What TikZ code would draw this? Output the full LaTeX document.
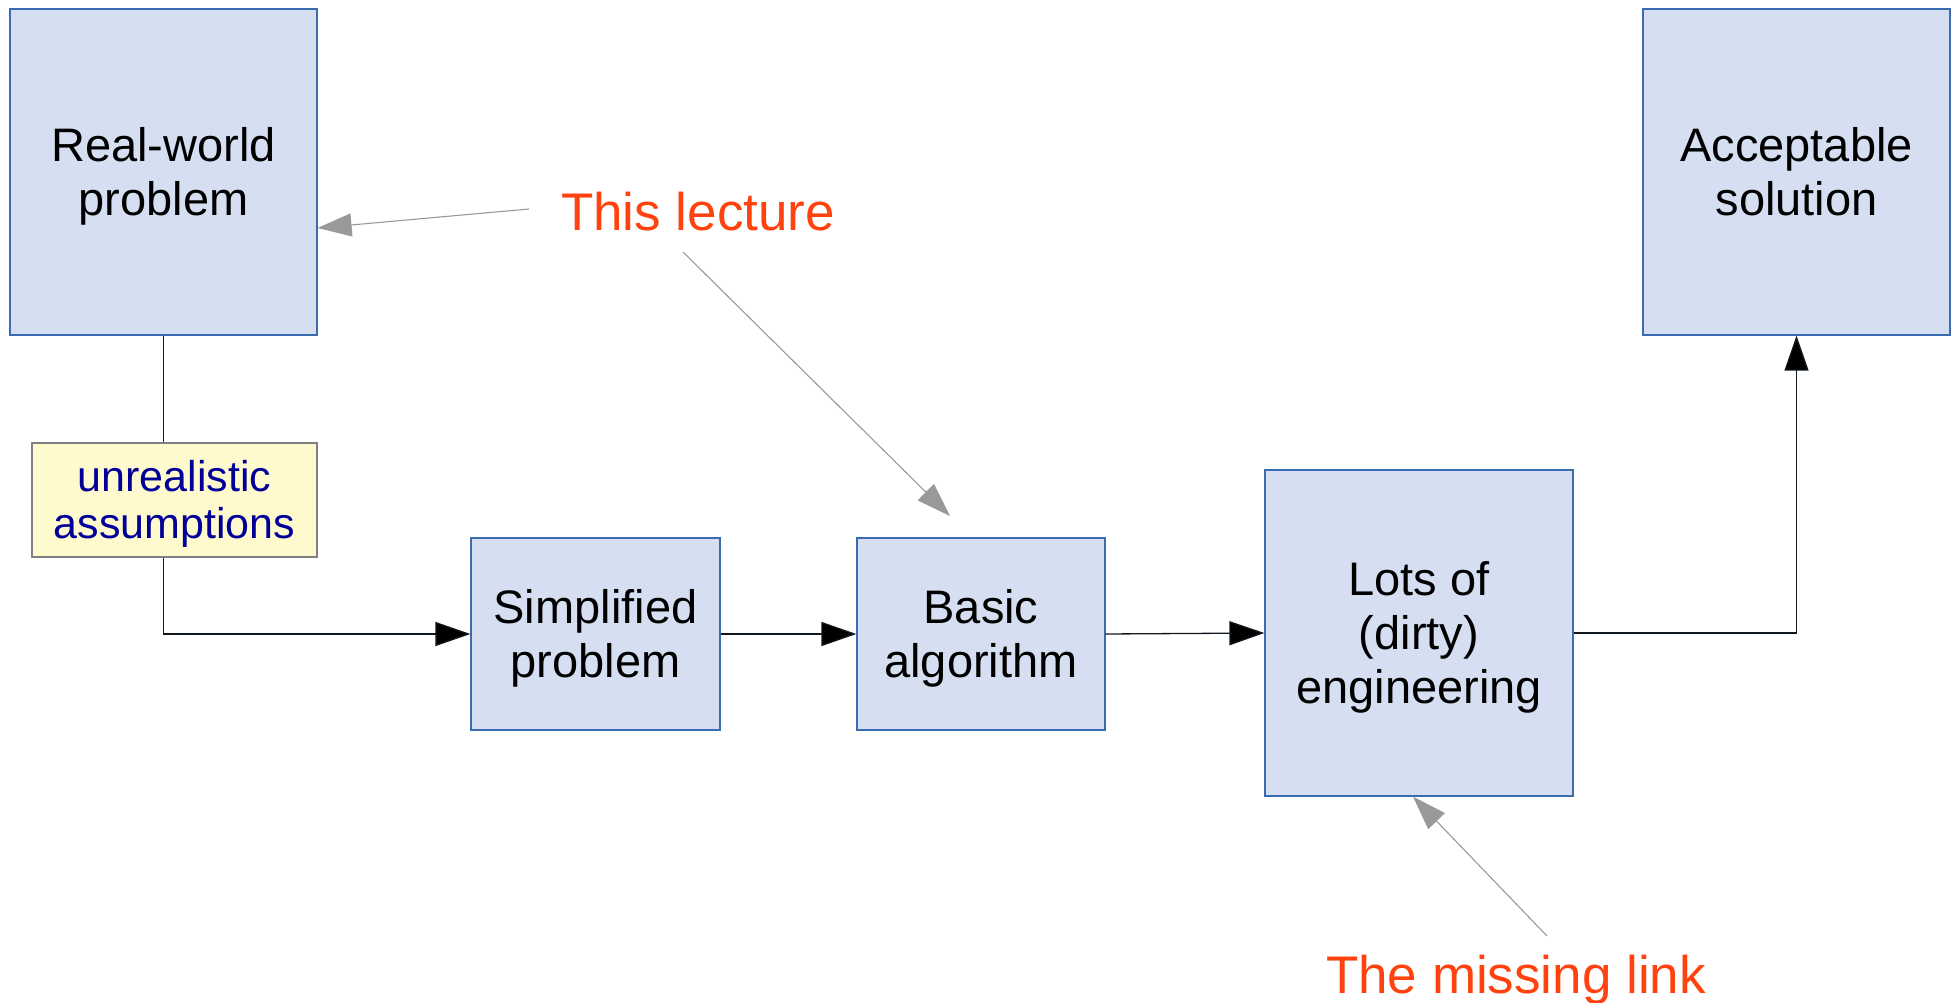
\documentclass[tikz,border=0pt]{standalone}
\usepackage{fontspec}
\setmainfont{Liberation Sans}
\usetikzlibrary{arrows.meta,calc}
\definecolor{boxfill}{HTML}{D5DFF1}
\definecolor{boxdraw}{HTML}{3B6BB0}
\definecolor{notefill}{HTML}{FFFACD}
\definecolor{notedraw}{HTML}{808080}
\definecolor{notetext}{HTML}{000099}
\definecolor{hot}{HTML}{FF420E}
\definecolor{pointer}{HTML}{999999}
\definecolor{conn}{HTML}{101820}
\newcommand{\lotxt}[1]{\raisebox{-5.5pt}[\height][\depth]{\begin{tabular}{@{}c@{}}#1\end{tabular}}}
\tikzset{
  bluebox/.style={draw=boxdraw, fill=boxfill, line width=1.2pt, inner sep=0pt,
    font=\fontsize{47}{54}\selectfont},
  notebox/.style={draw=notedraw, fill=notefill, line width=1.2pt, inner sep=0pt,
    text=notetext, font=\fontsize{43}{47}\selectfont},
  flow/.style={draw=conn, line width=1.3pt, -{Triangle[length=35pt,width=24pt,fill=black]}},
  plain/.style={draw=conn, line width=1.3pt},
  hint/.style={draw=pointer, line width=1.1pt, -{Triangle[length=34pt,width=23pt]}},
  hotlabel/.style={text=hot, inner sep=0pt, font=\fontsize{53}{60}\selectfont},
}
\begin{document}
\begin{tikzpicture}[x=1pt,y=-1pt]
\path[use as bounding box] (0,0) rectangle (1957,1003);
\node[bluebox, minimum width=307pt, minimum height=326pt] (real) at (163.5,172) {\lotxt{Real-world\\problem}};
\node[bluebox, minimum width=307pt, minimum height=326pt] (acc) at (1796.5,172) {\lotxt{Acceptable\\solution}};
\node[notebox, minimum width=285pt, minimum height=114pt] (unreal) at (174.5,500) {\lotxt{unrealistic\\assumptions}};
\node[bluebox, minimum width=249pt, minimum height=192pt] (simp) at (595.5,634) {\lotxt{Simplified\\problem}};
\node[bluebox, minimum width=248pt, minimum height=192pt] (basic) at (981,634) {\lotxt{Basic\\algorithm}};
\node[bluebox, minimum width=308pt, minimum height=326pt] (lots) at (1419,633) {\lotxt{Lots of\\(dirty)\\engineering}};
\node[hotlabel, anchor=base] (lecture) at (698,230) {This lecture};
\node[hotlabel, anchor=base] (missing) at (1516,993) {The missing link};

\draw[plain] (real.south) -- (real.south |- unreal.north);
\draw[flow] (real.south |- unreal.south) |- (simp.west);
\draw[flow] (simp.east) -- (basic.west);
\draw[flow] (basic.east) -- (lots.west);
\draw[flow] (lots.east) -| (acc.south);

\coordinate (l1) at (529,209);
\coordinate (l2) at (683,252);
\coordinate (l3) at (950,516);
\coordinate (m1) at (1547,936);
\draw[hint] (l1) -- ([yshift=-56pt]real.east);
\draw[hint] (l2) -- (l3);
\draw[hint] (m1) -- ([xshift=-6pt]lots.south);
\end{tikzpicture}
\end{document}
